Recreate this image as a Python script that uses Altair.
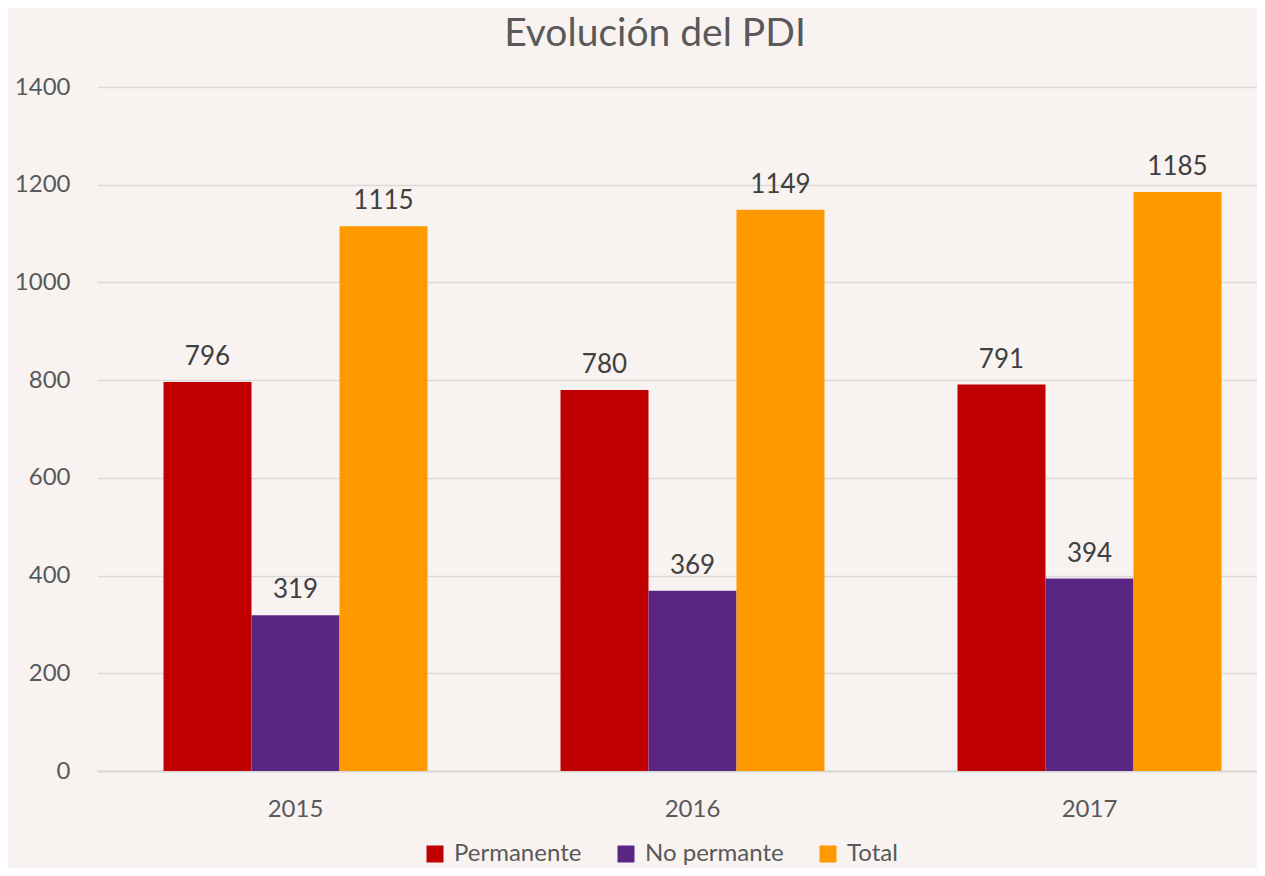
import altair as alt
import pandas as pd

years = ["2015", "2016", "2017"]
series = ["Permanente", "No permante", "Total"]
permanente = [796, 780, 791]
no_permanente = [319, 369, 394]
total = [1115, 1149, 1185]
colors = ["#C00000", "#5B2683", "#FF9900"]
y_ticks = [0, 200, 400, 600, 800, 1000, 1200, 1400]

rows = []
for i, yr in enumerate(years):
    for s, vals in zip(series, [permanente, no_permanente, total]):
        rows.append({"year": yr, "serie": s, "value": vals[i]})
df = pd.DataFrame(rows)

font = "Lato"
label_col = "#595959"

x = alt.X(
    "year:N", title=None, sort=years,
    scale=alt.Scale(range=[0, 1191], paddingInner=0.335, paddingOuter=0.1675),
    axis=alt.Axis(labelAngle=0, labelFont=font, labelFontSize=24, labelColor=label_col,
                  labelPadding=45, labelBaseline="alphabetic", ticks=False, tickSize=0,
                  domainColor="#D9D9D9", domainWidth=2, grid=False),
)
xo = alt.XOffset("serie:N", sort=series, scale=alt.Scale(paddingInner=0, paddingOuter=0))
y = alt.Y(
    "value:Q", title=None,
    scale=alt.Scale(domain=[0, 1400], nice=False),
    axis=alt.Axis(values=y_ticks, format="d", labelFont=font, labelFontSize=24,
                  labelColor=label_col, labelPadding=27, ticks=False, tickSize=0,
                  domain=False, gridColor="#D9D9D9", gridWidth=1.5),
)
color = alt.Color(
    "serie:N", sort=series,
    scale=alt.Scale(domain=series, range=colors),
    legend=alt.Legend(title=None, orient="none", legendX=326, legendY=755,
                      direction="horizontal", symbolType="square", symbolSize=289,
                      symbolStrokeWidth=0, symbolOpacity=1, labelFont=font, labelFontSize=24,
                      labelColor=label_col, labelOffset=7, columnPadding=32, padding=0),
)

bars = alt.Chart(df).mark_bar().encode(x=x, xOffset=xo, y=y, color=color)
labels = alt.Chart(df).mark_text(
    dy=-17, baseline="alphabetic", fontSize=26, font=font, color="#404040"
).encode(x=x, xOffset=xo, y=y, text="value:Q")

chart = alt.layer(bars, labels).properties(
    width=1160, height=684,
    padding={"left": 89, "top": 79, "right": 0, "bottom": 97},
    autosize=alt.AutoSizeParams(type="none"),
    background="#F8F3F1",
    title=alt.TitleParams("Evolución del PDI", font=font, fontSize=39, fontWeight="normal",
                          color=label_col, anchor="middle", offset=21, dx=-22),
).configure_view(stroke=None)

chart.save("out.html", embed_options={"renderer": "svg", "actions": False})
